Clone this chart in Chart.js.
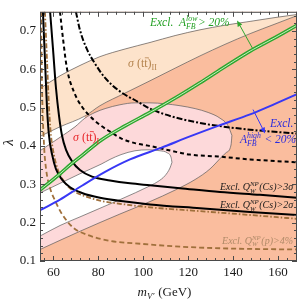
<!DOCTYPE html>
<html><head><meta charset="utf-8">
<script src="https://cdn.jsdelivr.net/npm/chart.js@4.4.0/dist/chart.umd.min.js"></script>
<style>html,body{margin:0;padding:0;background:#fff}</style>
</head><body>
<canvas id="c" width="300" height="299"></canvas>
<script>
// ---- axes ----
const xMin = 54, xMax = 168.5, yMin = 0.1, yMax = 0.75;
const xTickValues = [60, 80, 100, 120, 140, 160];
const yTickValues = [0.1, 0.2, 0.3, 0.4, 0.5, 0.6, 0.7];

// ---- sigma(tt)_II band (m_V', lambda) ----
const sigmaIIUpper = [[54,0.55],[62.9,0.583],[71.8,0.61],[80.7,0.633],[91.9,0.653],[103,0.67],[114.2,0.688],[125.3,0.703],[136.4,0.715],[147.6,0.725],[158.7,0.735],[168.5,0.743]];
const sigmaIILower = [[54,0.425],[62.9,0.45],[74,0.478],[80.7,0.505],[91.9,0.538],[103,0.57],[114.2,0.603],[125.3,0.635],[136.4,0.665],[147.6,0.693],[158.7,0.718],[168.5,0.74]];
// ---- sigma(tt)_I region: outer (pink) and inner (white) ----
const sigmaIOuterUpper = [[54,0.3875],[62.9,0.4225],[69.6,0.45],[74,0.4725],[78.5,0.4875],[83,0.4975],[89.6,0.5075],[96.3,0.5125],[103,0.5125],[109.7,0.51],[116.4,0.505],[123.1,0.4975],[128.9,0.4875],[134.2,0.4725],[137.8,0.4525],[139.5,0.4275]];
const sigmaIOuterLower = [[54,0.13],[71.8,0.1775],[89.6,0.2225],[103,0.255],[114.2,0.285],[123.1,0.3125],[129.7,0.34],[135.1,0.3725],[136.9,0.3825],[139.1,0.4025],[139.5,0.4275]];
const sigmaIInnerUpper = [[54,0.2775],[62.9,0.3025],[71.8,0.3275],[81.2,0.3525],[85.2,0.365],[90.1,0.3775],[96.3,0.3875],[102.1,0.39],[107.5,0.3875],[110.6,0.3825],[112.4,0.37],[112.8,0.3575]];
const sigmaIInnerLower = [[54,0.165],[62.9,0.1925],[71.8,0.215],[80.7,0.2375],[89.6,0.26],[103.5,0.2975],[106.6,0.3075],[109.7,0.3225],[111.9,0.3425],[112.8,0.3575]];
// ---- exclusion curves ----
const afbLow = [[54,0.285],[62.9,0.3275],[67.8,0.3525],[73.2,0.3775],[81.2,0.415],[91.9,0.4525],[103,0.4875],[114.2,0.525],[125.3,0.565],[133.3,0.595],[147.6,0.6475],[158.7,0.6825],[168.5,0.715]];
const afbHigh = [[54,0.2325],[62.9,0.26],[72.3,0.295],[83,0.3325],[94.1,0.365],[107.9,0.395],[120.8,0.425],[133.3,0.4525],[147.6,0.4825],[158.7,0.51],[168.5,0.535]];
const qwCs3 = [[58.5,0.75],[59.8,0.6525],[61.1,0.5525],[62.5,0.4775],[63.8,0.4275],[65.6,0.39],[68.3,0.36],[71.8,0.3375],[77.2,0.32],[85.2,0.31],[94.1,0.3025],[103,0.2975],[116.4,0.29],[134.2,0.28],[152,0.2725],[168.5,0.265]];
const qwCs2 = [[55.3,0.75],[56.2,0.6275],[57.1,0.5025],[58,0.4275],[59.4,0.3775],[61.1,0.34],[63.8,0.3125],[67.4,0.2925],[72.7,0.2775],[80.7,0.265],[91.9,0.255],[103,0.2475],[125.3,0.2375],[147.6,0.2275],[168.5,0.22]];
const qwCsBrown = [[56.2,0.75],[57.1,0.6275],[58,0.5025],[58.9,0.4275],[60.2,0.3775],[62,0.3375],[64.7,0.3075],[68.3,0.285],[73.6,0.27],[80.7,0.2575],[91.9,0.2475],[103,0.24],[125.3,0.23],[147.6,0.22],[168.5,0.21]];
const qwP = [[54.45,0.75],[54.9,0.5525],[55.8,0.4025],[56.7,0.34],[58.5,0.29],[60.7,0.2575],[63.8,0.2225],[68.7,0.1875],[75.4,0.1675],[85.2,0.1525],[98.6,0.145],[116.4,0.1375],[138.7,0.1325],[168.5,0.13]];
const dashUpper = [[70,0.75],[71.8,0.7025],[74.9,0.6525],[78.5,0.615],[83,0.5775],[89.6,0.5425],[97.7,0.515],[103,0.4975],[112.4,0.4775],[125.3,0.46],[133.3,0.4525],[147.6,0.4425],[168.5,0.4325]];
const dashLower = [[62.9,0.75],[64.3,0.6775],[66,0.6025],[69.2,0.54],[72.7,0.5025],[76.3,0.4775],[80.7,0.455],[85.2,0.4375],[90.1,0.42],[96.3,0.4075],[103,0.4],[112.4,0.3875],[120.8,0.3775],[133.3,0.3725],[147.6,0.365],[168.5,0.3575]];

// ---- annotations (data coordinates) ----
const greenArrow = [[148.9,0.6525],[141.8,0.7275]];
const blueArrow = [[148.9,0.495],[154.3,0.4325]];

const SALMON = '#FABD9E', PEACH = '#FDE3CB', PINK = '#FDD9DA', EDGE = '#5a5a5a';
const GREEN = '#2ea62e', BLUE = '#3838f5', BROWN = '#a0703c';

const xy = a => a.map(([x, y]) => ({x, y}));
const datasets = [];
function add(o) {
  datasets.push(Object.assign({pointRadius: 0, borderWidth: 0, borderColor: 'rgba(0,0,0,0)', fill: false,
    cubicInterpolationMode: 'monotone'}, o));
  return datasets.length - 1;
}
// fills
const iL1 = add({data: xy(sigmaIIUpper), fill: 'end', backgroundColor: '#ffffff', order: 100});
const iL2 = add({data: xy(sigmaIILower), fill: iL1, backgroundColor: PEACH, order: 99});
add({data: xy(sigmaIOuterUpper.slice(0, 4)), fill: iL2, backgroundColor: '#ffffff', order: 98});
const iPL = add({data: xy(sigmaIOuterLower), borderColor: EDGE, borderWidth: 0.7, order: 60});
add({data: xy(sigmaIOuterUpper), fill: iPL, backgroundColor: PINK, order: 97});
const iWL = add({data: xy(sigmaIInnerLower), borderColor: EDGE, borderWidth: 0.7, order: 59});
add({data: xy(sigmaIInnerUpper), fill: iWL, backgroundColor: '#ffffff', order: 96});
// edges
add({data: xy(sigmaIIUpper), borderColor: EDGE, borderWidth: 0.7, order: 58});
add({data: xy(sigmaIILower), borderColor: EDGE, borderWidth: 0.7, order: 57});
add({data: xy(sigmaIOuterUpper), borderColor: EDGE, borderWidth: 0.7, order: 56});
add({data: xy(sigmaIInnerUpper), borderColor: EDGE, borderWidth: 0.7, order: 55});
// curves
add({data: xy(qwP), borderColor: BROWN, borderWidth: 1.8, borderDash: [5, 3], order: 20});
add({data: xy(qwCsBrown), borderColor: BROWN, borderWidth: 1.8, borderDash: [5, 2, 1.5, 2], order: 19});
add({data: xy(qwCs2), borderColor: '#000', borderWidth: 2, order: 18});
add({data: xy(qwCs3), borderColor: '#000', borderWidth: 2, order: 17});
add({data: xy(dashUpper), borderColor: '#000', borderWidth: 2, borderDash: [6, 2, 2, 2], order: 16});
add({data: xy(dashLower), borderColor: '#000', borderWidth: 2, borderDash: [4, 3], order: 15});
add({data: xy(afbHigh), borderColor: BLUE, borderWidth: 2, order: 14});
add({data: xy(afbLow), borderColor: GREEN, borderWidth: 3.6, order: 13});
add({data: xy(afbLow), borderColor: '#c6efbf', borderWidth: 1, order: 12});

function fnt(size, italic) { return (italic ? 'italic ' : '') + size + 'px "Liberation Serif", "DejaVu Serif", serif'; }
function drawRich(ctx, x, y, parts, size, italic, color, align) {
  const ss = size * 0.68;
  const items = parts.map(p => {
    if (typeof p === 'string') p = {t: p};
    if (p.sup !== undefined || p.sub !== undefined) {
      ctx.font = fnt(ss, p.it === undefined ? italic : p.it);
      const w = Math.max(p.sup ? ctx.measureText(p.sup).width : 0, p.sub ? ctx.measureText(p.sub).width : 0);
      return {p, w: w + 0.6};
    }
    ctx.font = fnt(size, p.it === undefined ? italic : p.it);
    return {p, w: ctx.measureText(p.t || p.ov).width};
  });
  const total = items.reduce((s, i) => s + i.w, 0);
  let cx = align === 'center' ? x - total / 2 : x;
  ctx.fillStyle = color; ctx.strokeStyle = color;
  ctx.textBaseline = 'alphabetic'; ctx.textAlign = 'left';
  for (const {p, w} of items) {
    const it = p.it === undefined ? italic : p.it;
    if (p.sup !== undefined || p.sub !== undefined) {
      ctx.font = fnt(ss, it);
      if (p.sup) ctx.fillText(p.sup, cx, y - size * 0.42);
      if (p.sub) ctx.fillText(p.sub, cx, y + size * 0.25);
    } else if (p.ov) {
      ctx.font = fnt(size, it); ctx.fillText(p.ov, cx, y);
      ctx.lineWidth = 0.8; ctx.beginPath();
      ctx.moveTo(cx + 0.05 * size, y - size * 0.8); ctx.lineTo(cx + w + 0.1 * size, y - size * 0.8); ctx.stroke();
    } else {
      ctx.font = fnt(size, it); ctx.fillText(p.t, cx, y);
    }
    cx += w;
  }
}

const textLabels = [
  {at: [103, 0.7125], size: 11.5, italic: true, color: '#22a022', parts: ['Excl.  A', {sup: 'low', sub: 'FB'}, '> 20%']},
  {at: [93.2, 0.605], size: 12, italic: false, color: '#b5844f', parts: [{t: 'σ', it: true}, ' (t', {ov: 't'}, ')', {sub: 'II'}]},
  {at: [68.7, 0.4125], size: 12, italic: false, color: '#e8262a', parts: [{t: 'σ', it: true}, ' (t', {ov: 't'}, ')', {sub: 'I'}]},
  {at: [156.5, 0.45], size: 11.5, italic: true, color: '#2b2bdd', parts: ['Excl.']},
  {at: [143.1, 0.4075], size: 11.5, italic: true, color: '#2b2bdd', parts: ['A', {sup: 'high', sub: 'FB'}, ' < 20%']},
  {at: [134.2, 0.285], size: 10, italic: true, color: '#1a1a1a', parts: ['Excl. Q', {sup: 'NP', sub: 'W'}, '(Cs)>3σ']},
  {at: [134.2, 0.2375], size: 10, italic: true, color: '#1a1a1a', parts: ['Excl. Q', {sup: 'NP', sub: 'W'}, '(Cs)>2σ']},
  {at: [135.1, 0.145], size: 10, italic: true, color: '#b08a68', parts: ['Excl. Q', {sup: 'NP', sub: 'W'}, '(p)>4%']}
];

function arrow(ctx, x0, y0, x1, y1, color) {
  const ang = Math.atan2(y1 - y0, x1 - x0), L = 6, W = 2.6;
  ctx.strokeStyle = color; ctx.fillStyle = color; ctx.lineWidth = 1;
  ctx.beginPath(); ctx.moveTo(x0, y0); ctx.lineTo(x1 - L * Math.cos(ang), y1 - L * Math.sin(ang)); ctx.stroke();
  ctx.beginPath(); ctx.moveTo(x1, y1);
  ctx.lineTo(x1 - L * Math.cos(ang) + W * Math.sin(ang), y1 - L * Math.sin(ang) - W * Math.cos(ang));
  ctx.lineTo(x1 - L * Math.cos(ang) - W * Math.sin(ang), y1 - L * Math.sin(ang) + W * Math.cos(ang));
  ctx.closePath(); ctx.fill();
}

const decor = {
  id: 'decor',
  beforeDatasetsDraw(chart) {
    const {ctx, chartArea: a} = chart;
    ctx.save(); ctx.fillStyle = SALMON; ctx.fillRect(a.left, a.top, a.right - a.left, a.bottom - a.top); ctx.restore();
  },
  afterDatasetsDraw(chart) {
    const {ctx, chartArea: a, scales: {x, y}} = chart;
    const P = (m, l) => [x.getPixelForValue(m), y.getPixelForValue(l)];
    ctx.save();
    for (const L of textLabels) {
      const [px, py] = P(L.at[0], L.at[1]);
      drawRich(ctx, px, py, L.parts, L.size, L.italic, L.color);
    }
    let [a0, a1] = [P(...greenArrow[0]), P(...greenArrow[1])];
    arrow(ctx, a0[0], a0[1], a1[0], a1[1], GREEN);
    [a0, a1] = [P(...blueArrow[0]), P(...blueArrow[1])];
    arrow(ctx, a0[0], a0[1], a1[0], a1[1], BLUE);
    // frame and inside ticks
    ctx.strokeStyle = '#4a4a4a'; ctx.lineWidth = 1;
    ctx.strokeRect(a.left + 0.5, a.top + 0.5, a.right - a.left - 1, a.bottom - a.top - 1);
    ctx.beginPath();
    for (let m = 56; m <= xMax; m += 4) {
      const px = Math.round(x.getPixelForValue(m)) + 0.5, len = (m % 20 === 0) ? 5 : 3;
      ctx.moveTo(px, a.bottom); ctx.lineTo(px, a.bottom - len);
      ctx.moveTo(px, a.top); ctx.lineTo(px, a.top + len);
    }
    for (let k = 5; k <= 37; k++) {
      const py = Math.round(y.getPixelForValue(k / 50)) + 0.5, len = (k % 5 === 0) ? 5 : 3;
      ctx.moveTo(a.left, py); ctx.lineTo(a.left + len, py);
      ctx.moveTo(a.right, py); ctx.lineTo(a.right - len, py);
    }
    ctx.stroke();
    // axis titles
    drawRich(ctx, (a.left + a.right) / 2 - 4, 296, [{t: 'm', it: true}, {sub: 'V′', it: true}, ' (GeV)'], 13, false, '#1a1a1a', 'center');
    ctx.translate(13, (a.top + a.bottom) / 2 + 6);
    ctx.rotate(-Math.PI / 2);
    drawRich(ctx, 0, 0, ['λ'], 15, true, '#1a1a1a', 'center');
    ctx.restore();
  }
};

new Chart(document.getElementById('c'), {
  type: 'line',
  data: {datasets},
  options: {
    responsive: false, animation: false, devicePixelRatio: 1,
    layout: {padding: {left: 0, right: 3, top: 1, bottom: 0}},
    plugins: {legend: {display: false}, tooltip: {enabled: false}, filler: {propagate: false}},
    scales: {
      x: {type: 'linear', min: xMin, max: xMax,
        afterFit: s => { s.height = 38; },
        afterBuildTicks: s => { s.ticks = xTickValues.map(v => ({value: v})); },
        grid: {display: false, drawTicks: false}, border: {display: false},
        ticks: {font: {family: 'Liberation Serif', size: 13}, color: '#1a1a1a', padding: 4, maxRotation: 0, autoSkip: false, callback: v => String(v)}},
      y: {type: 'linear', min: yMin, max: yMax,
        afterFit: s => { s.width = 40; },
        afterBuildTicks: s => { s.ticks = yTickValues.map(v => ({value: v})); },
        grid: {display: false, drawTicks: false}, border: {display: false},
        ticks: {font: {family: 'Liberation Serif', size: 13}, color: '#1a1a1a', padding: 4, autoSkip: false, callback: v => Number(v).toFixed(1)}}
    }
  },
  plugins: [decor]
});
</script>
</body></html>
